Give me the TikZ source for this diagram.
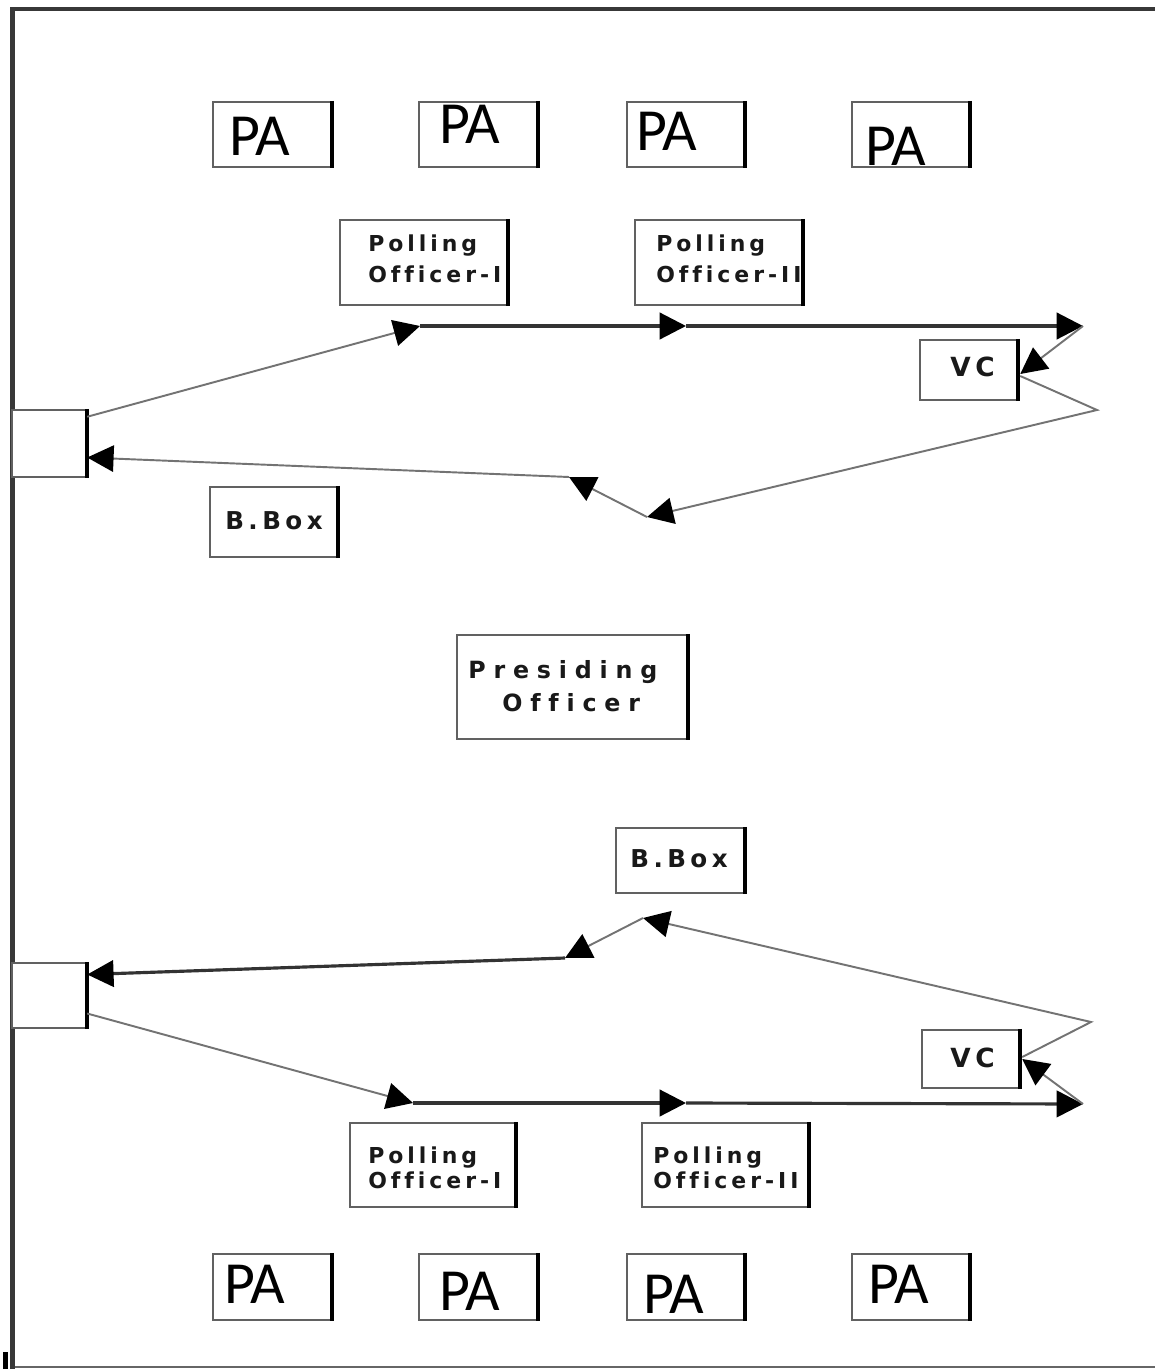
\documentclass[tikz,border=0pt]{standalone}
\usepackage{fontspec}
\setmainfont{Liberation Sans}
\newfontfamily\pafont{Carlito}
\newfontfamily\lblfont[LetterSpace=18,Ligatures=NoCommon]{DejaVu Sans}
\newfontfamily\presfont[LetterSpace=33,Ligatures=NoCommon]{DejaVu Sans}
\usetikzlibrary{arrows.meta,calc}
\begin{document}
\begin{tikzpicture}[x=0.02cm,y=-0.02cm,
  wh/.style 2 args={minimum width=#1*0.02cm, minimum height=#2*0.02cm},
  box/.style={draw=black!62, line width=1.4pt, inner sep=0pt, fill=white,
    append after command={(\tikzlastnode.north east) edge[draw=black, line width=2.3pt] (\tikzlastnode.south east)}},
  patext/.style={anchor=base west, inner sep=0pt, font=\pafont\fontsize{34}{34}\selectfont, text=black},
  lbl/.style={anchor=base west, inner sep=0pt, font=\lblfont\bfseries\fontsize{12.5}{12.5}\selectfont, text=black!90},
  bboxlbl/.style={lbl, font=\lblfont\bfseries\fontsize{14}{14}\selectfont},
  vclbl/.style={lbl, font=\lblfont\bfseries\fontsize{15}{15}\selectfont},
  preslbl/.style={anchor=base west, inner sep=0pt, font=\presfont\bfseries\fontsize{13.5}{13.5}\selectfont, text=black!90},
  arrowend/.style={-{Triangle[length=15pt,width=15pt,color=black]}},
  thinline/.style={draw=black!55, line width=1.1pt},
  thickline/.style={draw=black!80, line width=1.8pt},
]
\useasboundingbox (0,0) rectangle (1155,1369);
% frame
\draw[draw=black!78, line width=2.8pt, line join=miter] (12.5,1369) -- (12.5,9) -- (1155,9);
\draw[draw=black!60, line width=0.7pt] (15,1367) -- (1155,1367);
\fill[black] (3,1352) rectangle (8,1369);

% PA boxes top
\node[box, wh={118}{65}] (pat1) at (272,134.5) {};
\node[box, wh={118}{65}] (pat2) at (478,134.5) {};
\node[box, wh={117}{65}] (pat3) at (685.5,134.5) {};
\node[box, wh={117}{65}] (pat4) at (910.5,134.5) {};
\node[patext] (pat1t) at (229,155) {PA};
\node[patext] (pat2t) at (439,143) {PA};
\node[patext] (pat3t) at (636,150) {PA};
\node[patext] (pat4t) at (865,165) {PA};
% PA boxes bottom
\node[box, wh={118}{66}] (pab1) at (272,1287) {};
\node[box, wh={118}{66}] (pab2) at (478,1287) {};
\node[box, wh={117}{66}] (pab3) at (685.5,1287) {};
\node[box, wh={117}{66}] (pab4) at (910.5,1287) {};
\node[patext] (pab1t) at (224,1303) {PA};
\node[patext] (pab2t) at (439,1310) {PA};
\node[patext] (pab3t) at (643,1313) {PA};
\node[patext] (pab4t) at (868,1303) {PA};

% polling officers
\node[box, wh={167}{85}] (po1t) at (423.5,262.5) {};
\node[box, wh={167}{85}] (po2t) at (718.5,262.5) {};
\node[box, wh={165}{84}] (po1b) at (432.5,1165) {};
\node[box, wh={166}{84}] (po2b) at (725,1165) {};
\node[lbl] (po1ta) at (368,251) {Polling};
\node[lbl] (po1tb) at (368,282) {Officer-I};
\node[lbl] (po2ta) at (656,251) {Polling};
\node[lbl] (po2tb) at (656,282) {Officer-II};
\node[lbl] (po1ba) at (368,1163) {Polling};
\node[lbl] (po1bb) at (368,1188) {Officer-I};
\node[lbl] (po2ba) at (653,1163) {Polling};
\node[lbl] (po2bb) at (653,1188) {Officer-II};

% VC
\node[box, wh={97}{60}] (vct) at (968.5,370) {};
\node[box, wh={97}{58}] (vcb) at (970.5,1059) {};
\node[vclbl] (vcta) at (950,376) {VC};
\node[vclbl] (vcba) at (950,1067) {VC};

% B.Box
\node[box, wh={127}{70}] (bbt) at (273.5,522) {};
\node[box, wh={128}{65}] (bbb) at (680,860.5) {};
\node[bboxlbl] (bbta) at (225,529) {B.Box};
\node[bboxlbl] (bbba) at (630,867) {B.Box};

% Presiding officer
\node[box, wh={230}{104}] (pres) at (572,687) {};
\node[preslbl] (presa) at (468,678) {Presiding};
\node[preslbl] (presb) at (502,711) {Officer};

% left small boxes
\node[box, wh={74}{67}] (lb1) at (49,443.5) {};
\node[box, wh={74}{65}] (lb2) at (49,995.5) {};

% junction coordinates
\coordinate (j1t) at (420,326);
\coordinate (j2t) at (686,326);
\coordinate (j3t) at (1083,326);
\coordinate (tt) at (1097,410);
\coordinate (r1t) at (647,517);
\coordinate (r2t) at (569,477);
\coordinate (j1b) at (413,1103);
\coordinate (j2b) at (686,1103);
\coordinate (j3b) at (1083,1104);
\coordinate (tb) at (1091,1022);
\coordinate (r1b) at (643,918);
\coordinate (r2b) at (565,958);

% top flow
\draw[thinline, arrowend] ($(lb1.north east)+(0,8)$) -- (j1t);
\draw[thickline, arrowend] (j1t) -- (j2t);
\draw[thickline, arrowend] (j2t) -- (j3t);
\draw[thinline, arrowend] (j3t) -- ($(vct.east)+(2,4)$);
\draw[thinline, arrowend] ($(vct.east)+(2,6)$) -- (tt) -- (r1t);
\draw[thinline, arrowend] (r1t) -- (r2t);
\draw[thinline, arrowend] (r2t) -- ($(lb1.east)+(0,14)$);

% bottom flow
\draw[thinline, arrowend] ($(lb2.east)+(0,18)$) -- (j1b);
\draw[thickline, arrowend] (j1b) -- (j2b);
\draw[thickline, arrowend] (j2b) -- (j3b);
\draw[thinline, arrowend] (j3b) -- ($(vcb.east)+(2,0)$);
\draw[thinline, arrowend] ($(vcb.east)+(2,-2)$) -- (tb) -- (r1b);
\draw[thinline, arrowend] (r1b) -- (r2b);
\draw[thickline, arrowend] (r2b) -- ($(lb2.east)+(0,-21)$);
\end{tikzpicture}
\end{document}
